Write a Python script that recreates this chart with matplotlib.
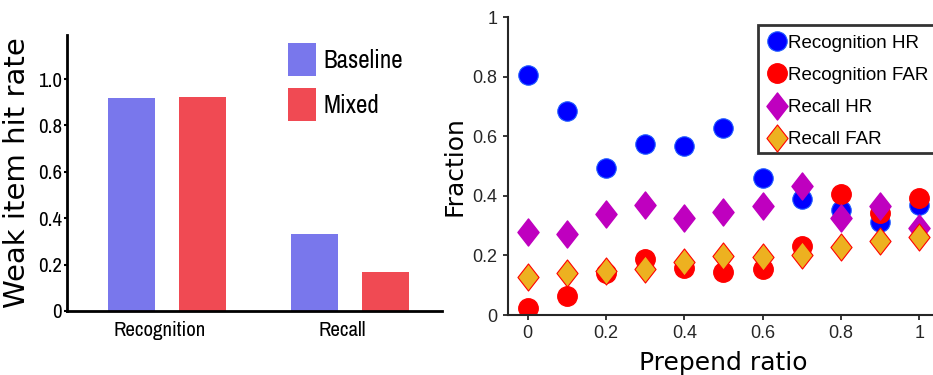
import matplotlib
matplotlib.use("Agg")
import matplotlib.pyplot as plt
from matplotlib import font_manager as fm
from matplotlib.path import Path
from matplotlib.patches import Rectangle
from matplotlib.ticker import FuncFormatter
import numpy as np

# left panel: weak item hit rate
tasks = ["Recognition", "Recall"]
baseline = [0.918, 0.330]
mixed = [0.922, 0.168]
left_ticks = [0, 0.2, 0.4, 0.6, 0.8, 1.0]
left_ticklabels = ["0", "0.2", "0.4", "0.6", "0.8", "1.0"]

# right panel: fraction vs prepend ratio
ratio = [0, 0.1, 0.2, 0.3, 0.4, 0.5, 0.6, 0.7, 0.8, 0.9, 1.0]
rec_hr = [0.806, 0.685, 0.494, 0.575, 0.568, 0.626, 0.461, 0.388, 0.352, 0.313, 0.369]
rec_far = [0.022, 0.064, 0.142, 0.188, 0.157, 0.145, 0.154, 0.233, 0.405, 0.341, 0.394]
recall_hr = [0.279, 0.271, 0.340, 0.368, 0.324, 0.346, 0.367, 0.434, 0.327, 0.366, 0.291]
recall_far = [0.129, 0.140, 0.149, 0.154, 0.179, 0.198, 0.194, 0.201, 0.229, 0.248, 0.263]

narrow = [f.name for f in fm.fontManager.ttflist if "Narrow" in f.name]
if narrow:
    cond = dict(family=narrow[0])
else:
    cond = dict(family="DejaVu Sans", stretch="condensed")

fig = plt.figure(figsize=(9.33, 3.75), dpi=100)

# ---------------- left
ax1 = fig.add_axes([67/933, 1-311/375, 375/933, 276/375])
x = np.arange(len(tasks))
off, w = 0.194, 0.26
ax1.bar(x - off, baseline, w, color="#7977EC", label="Baseline")
ax1.bar(x + off, mixed, w, color="#F04A53", label="Mixed")
ax1.set_xlim(-0.546, 1.503)
ax1.set_ylim(0, 1.19)
ax1.set_yticks(left_ticks)
ax1.set_yticklabels(left_ticklabels, fontsize=15, **cond)
ax1.set_xticks(x - 0.04)
ax1.set_xticklabels(tasks, fontsize=15, **cond)
ax1.tick_params(axis="x", length=0, pad=7)
ax1.tick_params(axis="y", length=2.5, width=1.5, pad=1)
for s in ["top", "right"]:
    ax1.spines[s].set_visible(False)
for s in ["left", "bottom"]:
    ax1.spines[s].set_linewidth(2)
ax1.set_ylabel("Weak item hit rate", fontsize=21, family="DejaVu Sans", labelpad=5)
ax1.legend(loc="upper left", bbox_to_anchor=(288/933, 1-43/375), bbox_transform=fig.transFigure,
           frameon=False, borderpad=0, borderaxespad=0, handlelength=1.12, handleheight=1.68,
           handletextpad=0.3, labelspacing=0.45, prop=dict(size=18, **cond))

# ---------------- right
ax2 = fig.add_axes([508/933, 1-315/375, 431/933, 298/375])
tall_diamond = Path([(0, 1), (0.78, 0), (0, -1), (-0.78, 0), (0, 1)],
                    [Path.MOVETO, Path.LINETO, Path.LINETO, Path.LINETO, Path.CLOSEPOLY])
ax2.plot(ratio, rec_hr, "o", ms=14, color="#0000FF", mec="#1E5AFF", mew=0.8, ls="none", label="Recognition HR")
ax2.plot(ratio, rec_far, "o", ms=14, color="#FF0000", mec="#FF0000", ls="none", label="Recognition FAR")
ax2.plot(ratio, recall_hr, marker=tall_diamond, ms=19.5, color="#BF00BF", mec="#BF00BF", ls="none",
         label="Recall HR")
ax2.plot(ratio, recall_far, marker=tall_diamond, ms=19.5, color="#EDB120", mec="#FF0000", mew=0.8,
         ls="none", label="Recall FAR")
ax2.set_xlim(-0.05, 1.05)
ax2.set_ylim(0, 1)
ax2.set_xticks([0, 0.2, 0.4, 0.6, 0.8, 1.0])
ax2.set_yticks([0, 0.2, 0.4, 0.6, 0.8, 1.0])
fmt = FuncFormatter(lambda v, p: f"{v:g}")
ax2.xaxis.set_major_formatter(fmt)
ax2.yaxis.set_major_formatter(fmt)
for lab in ax2.get_xticklabels() + ax2.get_yticklabels():
    lab.set_family("Liberation Sans")
ax2.tick_params(labelsize=13, colors="#262626", length=3.5, width=1.3, pad=4)
for s in ["top", "right"]:
    ax2.spines[s].set_visible(False)
for s in ["left", "bottom"]:
    ax2.spines[s].set_linewidth(1.5)
    ax2.spines[s].set_color("#262626")
ax2.set_ylabel("Fraction", fontsize=18, family="DejaVu Sans", labelpad=4)
ax2.set_xlabel("Prepend ratio", fontsize=18, family="DejaVu Sans", labelpad=6)

# legend box runs off the right edge like the original
box = Rectangle((758/933, 1-153/375), 190/933, 128/375, transform=fig.transFigure,
                facecolor="white", edgecolor="#333333", lw=2, clip_on=False, zorder=4.9)
ax2.add_patch(box)
ax2.legend(loc="upper left", bbox_to_anchor=(758/933, 1-25/375), bbox_transform=fig.transFigure,
           frameon=False, borderaxespad=0, borderpad=0.5, handlelength=1.0, handletextpad=0.08,
           labelspacing=0.81, prop=dict(family="Liberation Sans", size=13.5))

fig.savefig("out.png", dpi=100)
